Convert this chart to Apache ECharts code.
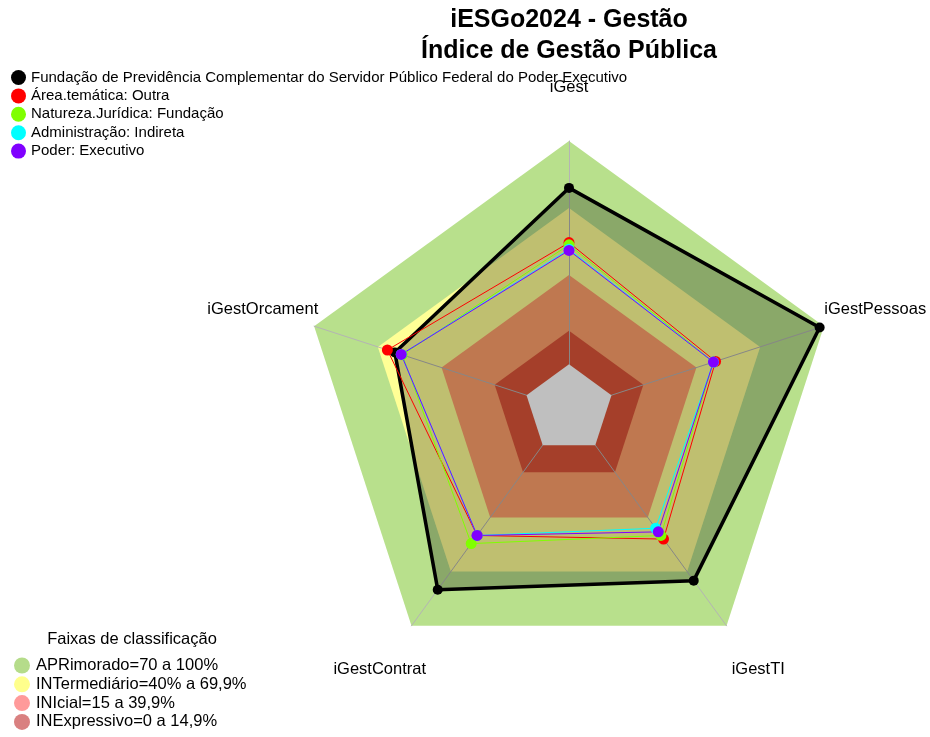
<!DOCTYPE html>
<html>
<head>
<meta charset="utf-8">
<script src="https://cdn.jsdelivr.net/npm/echarts@6/dist/echarts.min.js"></script>
<style>
html, body { margin: 0; padding: 0; background: #fff; }
#chart1 { width: 930px; height: 737px; }
</style>
</head>
<body>
<div id="chart1"></div>
<script>
// axes in the order the radar draws them (counter-clockwise from the top)
var indicators = ['iGest', 'iGestOrcament', 'iGestContrat', 'iGestTI', 'iGestPessoas'];

var entityName = 'Fundação de Previdência Complementar do Servidor Público Federal do Poder Executivo';
var entityValues = [79, 62, 80, 75, 98];
var areaValues = [54.5, 65.5, 50, 52, 49];
var naturezaValues = [53.5, 58.5, 54.5, 50, 48];
var adminValues = [51.5, 59, 50, 46, 48];
var poderValues = [51, 59, 50, 48, 48];

var groupNames = [entityName, 'Área.temática: Outra', 'Natureza.Jurídica: Fundação', 'Administração: Indireta', 'Poder: Executivo'];
var groupColors = ['#000000', '#FF0000', '#80FF00', '#00FFFF', '#8000FF'];

var bandNames = ['APRimorado=70 a 100%', 'INTermediário=40% a 69,9%', 'INIcial=15 a 39,9%', 'INExpressivo=0 a 14,9%'];
var bandLimits = [100, 70, 40, 15];
var bandColors = ['#B8E08C', '#FFFF96', '#FFA06B', '#DC5538'];
var bandLegendColors = ['#B5DC8A', '#FFFF8C', '#FF9A9A', '#D98080'];

var myChart1 = echarts.init(document.getElementById('chart1'));

var series = [];
for (var i = 0; i < bandNames.length; i++) {
    series.push({
        type: 'radar',
        z: 1,
        silent: true,
        symbol: 'none',
        lineStyle: { opacity: 0 },
        areaStyle: { color: bandColors[i], opacity: 1 },
        data: [{
            name: bandNames[i],
            value: indicators.map(function () { return bandLimits[i]; }),
            itemStyle: { color: bandLegendColors[i] }
        }]
    });
}
// plain centre below the zero level
series.push({
    type: 'radar',
    z: 3,
    silent: true,
    symbol: 'none',
    lineStyle: { opacity: 0 },
    areaStyle: { color: '#ffffff', opacity: 1 },
    data: [{ name: 'zero', value: indicators.map(function () { return 0; }) }]
});

var groupValues = [entityValues, areaValues, naturezaValues, adminValues, poderValues];
for (var k = 0; k < groupNames.length; k++) {
    var s = {
        type: 'radar',
        z: 4,
        symbol: 'circle',
        symbolSize: k == 0 ? 10 : 11,
        itemStyle: { color: groupColors[k] },
        lineStyle: { color: groupColors[k], width: k == 0 ? 3.5 : 1 },
        data: [{ name: groupNames[k], value: groupValues[k] }]
    };
    if (k == 0) {
        s.areaStyle = { color: 'rgba(0,0,0,0.25)', opacity: 1 };
    }
    series.push(s);
}

var option = {
    animation: false,
    textStyle: { fontFamily: 'Liberation Sans' },
    title: [
        {
            text: 'iESGo2024 - Gestão\nÍndice de Gestão Pública',
            left: 564,
            top: 0,
            textAlign: 'center',
            textStyle: { fontSize: 25, fontWeight: 'bold', lineHeight: 31, color: '#000', fontFamily: 'Liberation Sans' }
        },
        {
            text: 'Faixas de classificação',
            left: 127,
            top: 626,
            textAlign: 'center',
            textStyle: { fontSize: 16.5, fontWeight: 'normal', color: '#000', fontFamily: 'Liberation Sans' }
        }
    ],
    legend: [
        {
            data: groupNames,
            orient: 'vertical',
            left: 6,
            top: 65,
            icon: 'circle',
            itemWidth: 15,
            itemHeight: 15,
            itemGap: 3.4,
            selectedMode: false,
            textStyle: { fontSize: 15, color: '#000', fontFamily: 'Liberation Sans' }
        },
        {
            data: bandNames.map(function (n, i) {
                return { name: n, itemStyle: { color: bandLegendColors[i], borderWidth: 0 } };
            }),
            orient: 'vertical',
            left: 14,
            top: 657,
            padding: 0,
            icon: 'circle',
            itemWidth: 18,
            itemHeight: 16,
            itemGap: 1.8,
            selectedMode: false,
            textStyle: { fontSize: 16.5, color: '#000', fontFamily: 'Liberation Sans' }
        }
    ],
    radar: {
        center: [569, 409],
        radius: 268,
        startAngle: 90,
        shape: 'polygon',
        z: 2,
        indicator: indicators.map(function (n) { return { name: n, min: -20, max: 100 }; }),
        nameGap: 54,
        axisName: { color: '#000', fontSize: 16.5, fontFamily: 'Liberation Sans', align: 'center', verticalAlign: 'middle' },
        axisLine: { lineStyle: { color: '#b4b4b4', width: 1 } },
        splitLine: { show: false },
        splitArea: { show: false }
    },
    series: series
};
myChart1.setOption(option);
</script>
</body>
</html>
